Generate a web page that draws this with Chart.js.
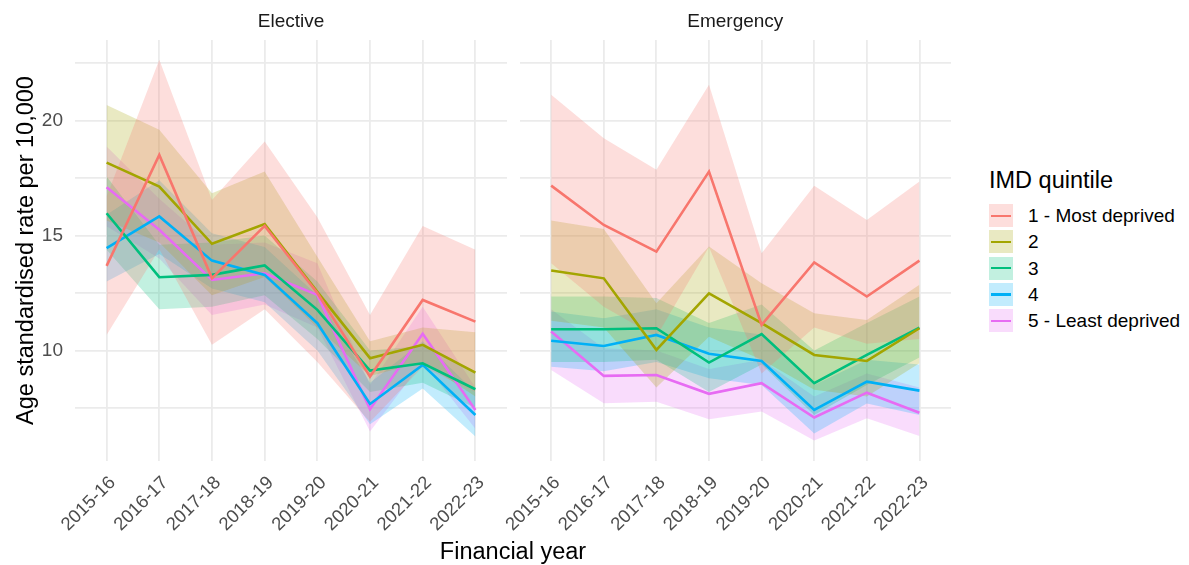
<!DOCTYPE html>
<html>
<head>
<meta charset="utf-8">
<script src="https://cdn.jsdelivr.net/npm/chart.js@4.4.1/dist/chart.umd.min.js"></script>
<style>
    body { margin: 0; background: #fff; font-family: "Liberation Sans", Arial, sans-serif; }
    #contenedor { position: relative; width: 1189px; height: 565px; overflow: hidden; }
    canvas { position: absolute; top: 0; }
    #electiva { left: 0; }
    #emergencia { left: 490px; }
    #tituloX { position: absolute; left: 363px; width: 300px; top: 536px; line-height: 30px;
               text-align: center; font-size: 23.5px; color: #000; }
    #leyenda { position: absolute; left: 989px; top: 0; }
    #leyenda .titulo { position: absolute; left: 0; top: 165px; font-size: 23.5px; line-height: 30px; white-space: nowrap; color: #000; }
    .fila { position: absolute; left: 0; height: 23px; white-space: nowrap; }
    .caja { position: absolute; left: 0; top: 0; width: 24px; height: 23px; }
    .raya { position: absolute; left: 2px; top: 10.5px; width: 20px; height: 2.4px; }
    .texto { position: absolute; left: 39px; top: -2px; font-size: 19px; line-height: 27px; color: #000; }
</style>
</head>
<body>
<div id="contenedor">
    <canvas id="electiva" width="507" height="565"></canvas>
    <canvas id="emergencia" width="461" height="565"></canvas>
    <div id="tituloX">Financial year</div>
    <div id="leyenda"><div class="titulo">IMD quintile</div></div>
</div>
<script>
"use strict";

// eje X: años financieros
const anios = ["2015-16", "2016-17", "2017-18", "2018-19", "2019-20", "2020-21", "2021-22", "2022-23"];
const quintiles = ["1 - Most deprived", "2", "3", "4", "5 - Least deprived"];
const colores = ["#F8766D", "#A3A500", "#00BF7D", "#00B0F6", "#E76BF3"];

// marcas del eje Y (las de 2.5 solo llevan grilla)
const marcasY = [7.5, 10, 12.5, 15, 17.5, 20, 22.5];

// Elective: tasa y banda (inferior / superior), una fila por quintil
const electivaTasa = [
    [13.68, 18.5, 13.15, 15.42, 12.5, 8.87, 12.2, 11.26],
    [18.17, 17.13, 14.64, 15.5, 12.55, 9.67, 10.25, 9.04],
    [15.97, 13.19, 13.29, 13.7, 11.77, 9.13, 9.45, 8.32],
    [14.45, 15.83, 13.91, 13.29, 11.19, 7.68, 9.38, 7.2],
    [17.1, 15.25, 13.07, 13.36, 12.42, 7.45, 10.73, 7.42]
];
const electivaInf = [
    [10.68, 14.4, 10.25, 11.8, 9.5, 6.9, 9.3, 8.2],
    [15.65, 14.7, 12.4, 13.2, 11.0, 8.9, 9.5, 8.0],
    [14.38, 11.8, 11.9, 12.4, 10.5, 8.2, 8.6, 7.5],
    [13.0, 14.2, 12.7, 12.1, 10.0, 6.8, 8.35, 6.26],
    [15.4, 14.0, 11.55, 12.0, 11.0, 6.48, 9.5, 6.6]
];
const electivaSup = [
    [16.7, 22.64, 16.55, 19.09, 15.8, 11.55, 15.42, 14.38],
    [20.68, 19.6, 16.84, 17.78, 14.08, 10.4, 11.0, 10.8],
    [17.57, 14.6, 14.7, 15.0, 13.0, 10.0, 10.2, 9.1],
    [15.9, 17.4, 15.1, 14.5, 12.4, 8.6, 10.4, 8.2],
    [18.87, 16.6, 14.6, 14.7, 13.8, 8.5, 11.9, 8.4]
];

// Emergency
const emergenciaTasa = [
    [17.17, 15.46, 14.3, 17.78, 11.12, 13.83, 12.35, 13.91],
    [13.48, 13.14, 10.03, 12.49, 11.19, 9.81, 9.55, 10.97],
    [10.93, 10.93, 10.97, 9.48, 10.72, 8.58, 9.81, 11.0],
    [10.43, 10.2, 10.68, 9.86, 9.55, 7.42, 8.65, 8.26],
    [10.83, 8.9, 8.94, 8.12, 8.58, 7.09, 8.17, 7.3]
];
const emergenciaInf = [
    [13.8, 11.9, 10.6, 14.5, 9.0, 11.0, 10.3, 10.5],
    [11.3, 11.0, 8.4, 10.6, 9.6, 8.3, 8.0, 9.45],
    [9.5, 9.5, 9.6, 8.2, 9.4, 7.2, 8.5, 9.7],
    [9.3, 9.1, 9.5, 8.8, 8.5, 6.4, 7.7, 7.2],
    [9.16, 7.71, 7.78, 7.01, 7.35, 6.09, 7.06, 6.29]
];
const emergenciaSup = [
    [21.12, 19.23, 17.86, 21.55, 14.23, 17.16, 15.68, 17.35],
    [15.65, 15.28, 12.06, 14.52, 12.93, 11.62, 11.33, 12.86],
    [12.35, 12.35, 12.28, 11.2, 12.0, 10.0, 11.2, 12.35],
    [11.7, 11.4, 11.8, 11.0, 10.7, 8.5, 9.6, 9.4],
    [11.8, 10.1, 10.0, 9.2, 9.6, 8.0, 9.0, 8.4]
];

const fuente = "'Liberation Sans', Arial, sans-serif";
const alfaBanda = 0.24;

function transparente(hex, alfa) {
    let r = parseInt(hex.slice(1, 3), 16);
    let g = parseInt(hex.slice(3, 5), 16);
    let b = parseInt(hex.slice(5, 7), 16);
    return `rgba(${r}, ${g}, ${b}, ${alfa})`;
}

// cada valor va en la posicion del año (0..7)
function puntos(valores) {
    return valores.map((v, i) => ({ x: i, y: v }));
}

function armarDatasets(tasa, inf, sup) {
    let datasets = [];
    // primero las bandas: borde superior y luego el inferior que rellena hasta el anterior
    for (let q = 0; q < quintiles.length; q++) {
        datasets.push({
            data: puntos(sup[q]),
            borderWidth: 0,
            pointRadius: 0,
            fill: false
        });
        datasets.push({
            data: puntos(inf[q]),
            borderWidth: 0,
            pointRadius: 0,
            fill: "-1",
            backgroundColor: transparente(colores[q], alfaBanda)
        });
    }
    // despues las lineas
    for (let q = 0; q < quintiles.length; q++) {
        datasets.push({
            label: quintiles[q],
            data: puntos(tasa[q]),
            borderColor: colores[q],
            borderWidth: 2.6,
            pointRadius: 0,
            fill: false
        });
    }
    return datasets;
}

function crearPanel(id, titulo, tasa, inf, sup, conEjeY) {
    const ctx = document.getElementById(id).getContext("2d");
    return new Chart(ctx, {
        type: "line",
        data: { datasets: armarDatasets(tasa, inf, sup) },
        options: {
            responsive: false,
            animation: false,
            devicePixelRatio: 1,
            layout: { padding: 0 },
            plugins: {
                legend: { display: false },
                tooltip: { enabled: false },
                filler: { drawTime: "beforeDatasetsDraw" }
            },
            scales: {
                x: {
                    type: "linear",
                    min: -0.6,
                    max: 7.6,
                    afterBuildTicks: eje => { eje.ticks = anios.map((a, i) => ({ value: i })); },
                    afterFit: eje => { eje.height = 104; },
                    grid: { color: "#EBEBEB", lineWidth: 1.8, drawTicks: false },
                    border: { display: false },
                    ticks: {
                        autoSkip: false,
                        minRotation: 45,
                        maxRotation: 45,
                        padding: 11,
                        labelOffset: 6,
                        color: "#4D4D4D",
                        font: { family: fuente, size: 18.5 },
                        callback: v => anios[v]
                    }
                },
                // eje de arriba solo para el titulo de la faceta
                faceta: {
                    type: "linear",
                    axis: "x",
                    position: "top",
                    ticks: { display: false },
                    grid: { display: false, drawTicks: false },
                    border: { display: false },
                    title: {
                        display: true,
                        text: titulo,
                        color: "#1A1A1A",
                        font: { family: fuente, size: 19 },
                        padding: { top: 10, bottom: 0 }
                    },
                    afterFit: eje => { eje.height = 40; }
                },
                y: {
                    type: "linear",
                    min: 5.2,
                    max: 23.5,
                    afterBuildTicks: eje => { eje.ticks = marcasY.map(v => ({ value: v })); },
                    afterFit: eje => { eje.width = conEjeY ? 75 : 29.5; },
                    grid: { color: "#EBEBEB", lineWidth: 1.8, drawTicks: false },
                    border: { display: false },
                    ticks: {
                        display: conEjeY,
                        padding: 12,
                        color: "#4D4D4D",
                        font: { family: fuente, size: 19 },
                        callback: v => (v % 5 === 0 ? v : "")
                    },
                    title: {
                        display: conEjeY,
                        text: "Age standardised rate per 10,000",
                        color: "#000",
                        font: { family: fuente, size: 23.5 },
                        padding: { top: 12, bottom: 0 }
                    }
                }
            }
        }
    });
}

crearPanel("electiva", "Elective", electivaTasa, electivaInf, electivaSup, true);
crearPanel("emergencia", "Emergency", emergenciaTasa, emergenciaInf, emergenciaSup, false);

// leyenda armada a mano con los mismos colores
const leyenda = document.getElementById("leyenda");
quintiles.forEach((nombre, q) => {
    let fila = document.createElement("div");
    fila.className = "fila";
    fila.style.top = (204 + q * 26.3) + "px";

    let caja = document.createElement("div");
    caja.className = "caja";
    caja.style.background = transparente(colores[q], alfaBanda);

    let raya = document.createElement("div");
    raya.className = "raya";
    raya.style.background = colores[q];
    caja.appendChild(raya);

    let texto = document.createElement("div");
    texto.className = "texto";
    texto.textContent = nombre;

    fila.appendChild(caja);
    fila.appendChild(texto);
    leyenda.appendChild(fila);
});
</script>
</body>
</html>
